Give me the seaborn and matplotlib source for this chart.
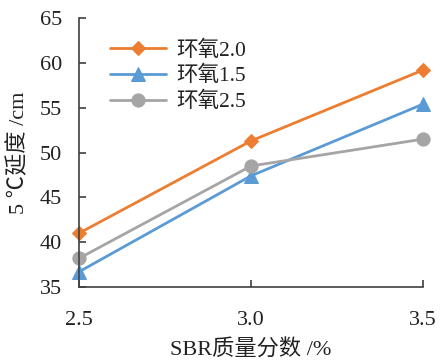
import matplotlib
matplotlib.use("Agg")
import matplotlib.pyplot as plt
import seaborn as sns
import pandas as pd

sbr = [2.5, 3.0, 3.5]
epoxy20 = [41.0, 51.3, 59.2]
epoxy15 = [36.7, 47.4, 55.4]
epoxy25 = [38.2, 48.5, 51.5]
series_names = ["环氧2.0", "环氧1.5", "环氧2.5"]
colors = ["#ED7D31", "#5B9BD5", "#A5A5A5"]
markers = ["D", "^", "o"]
yticks = [35, 40, 45, 50, 55, 60, 65]
xticks = [2.5, 3.0, 3.5]
xticklabels = ["2.5", "3.0", "3.5"]

sns.set_style("ticks")
plt.rcParams['font.family'] = ['Liberation Serif', 'Noto Sans CJK SC', 'DejaVu Sans']
plt.rcParams['axes.unicode_minus'] = False

fig = plt.figure(figsize=(4.41, 3.62), dpi=100)
ax = fig.add_axes([0.179, 0.207, 0.780, 0.743])

for name, vals, c, m in zip(series_names, [epoxy20, epoxy15, epoxy25], colors, markers):
    df = pd.DataFrame({"x": sbr, "y": vals})
    ms = 7.5 if m == "D" else 9.5
    sns.lineplot(data=df, x="x", y="y", ax=ax, color=c, marker=m, markersize=ms,
                 markeredgecolor=c, linewidth=2.0, label=name, clip_on=False)

ax.set_xlim(2.5, 3.5)
ax.set_ylim(35, 65)
ax.set_xticks(xticks)
ax.set_xticklabels(xticklabels)
ax.set_yticks(yticks)
for s in ["top", "right"]:
    ax.spines[s].set_visible(False)
for s in ["left", "bottom"]:
    ax.spines[s].set_color("#404040")
    ax.spines[s].set_linewidth(1.2)
ax.tick_params(axis="x", direction="in", length=5, width=1.2, color="#404040",
               labelsize=16, pad=17, labelcolor="#222222")
ax.tick_params(axis="y", direction="in", length=5, width=1.2, color="#404040",
               labelsize=16, pad=12, labelcolor="#222222")
ax.set_xlabel("SBR质量分数 /%", fontsize=16, color="#222222", labelpad=7)
ax.set_ylabel("5 ℃延度 /cm", fontsize=16, color="#222222", labelpad=8)

leg = ax.legend(loc="upper left", bbox_to_anchor=(0.035, 0.99), frameon=False,
                fontsize=15.5, handlelength=2.6, handletextpad=0.45, labelspacing=0.25)
for t in leg.get_texts():
    t.set_color("#222222")

fig.savefig("out.png", dpi=100)
